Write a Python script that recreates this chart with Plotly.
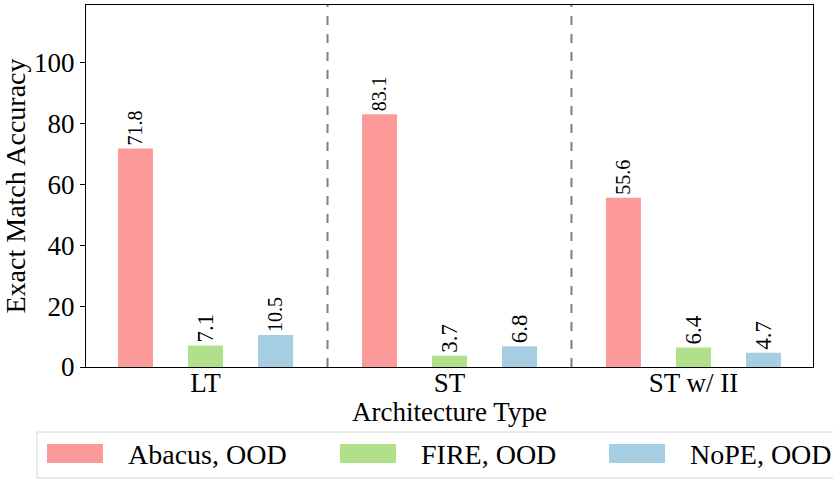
import plotly.graph_objects as go

# Datos
arquitecturas = ['LT', 'ST', 'ST w/ II']
abacus_ood = [71.8, 83.1, 55.6]
fire_ood = [7.1, 3.7, 6.4]
nope_ood = [10.5, 6.8, 4.7]

series = [
    ('Abacus, OOD', abacus_ood, '#fb9a99'),
    ('FIRE, OOD', fire_ood, '#b2df8a'),
    ('NoPE, OOD', nope_ood, '#a6cee3'),
]

fuente = 'Liberation Serif, Times New Roman, serif'

W, H = 833, 479
ML, MR, MT, MB = 86, 20, 5, 112


def px_x(px):
    # píxel horizontal -> coordenada 'paper'
    return (px - ML) / (W - ML - MR)


def px_y(py):
    # píxel vertical (desde arriba) -> coordenada 'paper'
    return (H - MB - py) / (H - MT - MB)


fig = go.Figure()
for nombre, valores, color in series:
    fig.add_trace(go.Bar(
        x=arquitecturas,
        y=valores,
        name=nombre,
        showlegend=False,
        marker=dict(color=color, line=dict(width=0)),
        text=[f'{v:.1f}' for v in valores],
        textposition='outside',
        textangle=-90,
        textfont=dict(family=fuente, size=23, color='black'),
        cliponaxis=False,
    ))

# Líneas discontinuas entre grupos
for xpos in [0.5, 1.5]:
    fig.add_shape(type='line', x0=xpos, x1=xpos, y0=0, y1=1,
                  xref='x', yref='paper',
                  line=dict(color='gray', width=2, dash='dash'))

# Leyenda dibujada a mano (muestras anchas como en matplotlib)
fig.add_shape(type='rect', xref='paper', yref='paper',
              x0=px_x(37), x1=px_x(845), y0=px_y(432), y1=px_y(478),
              line=dict(color='#d6d6d6', width=1), fillcolor='rgba(0,0,0,0)')
inicio_items = [47, 340, 609]
for (nombre, valores, color), x0 in zip(series, inicio_items):
    fig.add_shape(type='rect', xref='paper', yref='paper',
                  x0=px_x(x0), x1=px_x(x0 + 56), y0=px_y(444), y1=px_y(463),
                  line=dict(width=0), fillcolor=color)
    fig.add_annotation(xref='paper', yref='paper', x=px_x(x0 + 79), y=px_y(454),
                       text=nombre, showarrow=False, xanchor='left', yanchor='middle',
                       font=dict(family=fuente, size=28, color='black'))

fig.update_layout(
    width=W, height=H,
    barmode='group', bargap=0.139, bargroupgap=0.5,
    plot_bgcolor='white', paper_bgcolor='white',
    margin=dict(l=ML, r=MR, t=MT, b=MB, autoexpand=False),
    font=dict(family=fuente, size=27, color='black'),
    showlegend=False,
)
fig.update_xaxes(
    range=[-0.49, 2.49], showline=True, linecolor='black', linewidth=1.2,
    mirror=True, ticks='', ticklabelstandoff=-9,
    title=dict(text='Architecture Type', standoff=4, font=dict(size=27)),
    tickfont=dict(size=27),
)
fig.update_yaxes(
    range=[0, 119], showline=True, linecolor='black', linewidth=1.2,
    mirror=True, ticks='outside', ticklen=5, tickcolor='black',
    tickvals=[0, 20, 40, 60, 80, 100], showgrid=False, zeroline=False,
    title=dict(text='Exact Match Accuracy', standoff=4, font=dict(size=28)),
    tickfont=dict(size=27),
)

fig.write_html('out.html', config={'displayModeBar': False},
               post_script="document.body.style.margin='0px';")
